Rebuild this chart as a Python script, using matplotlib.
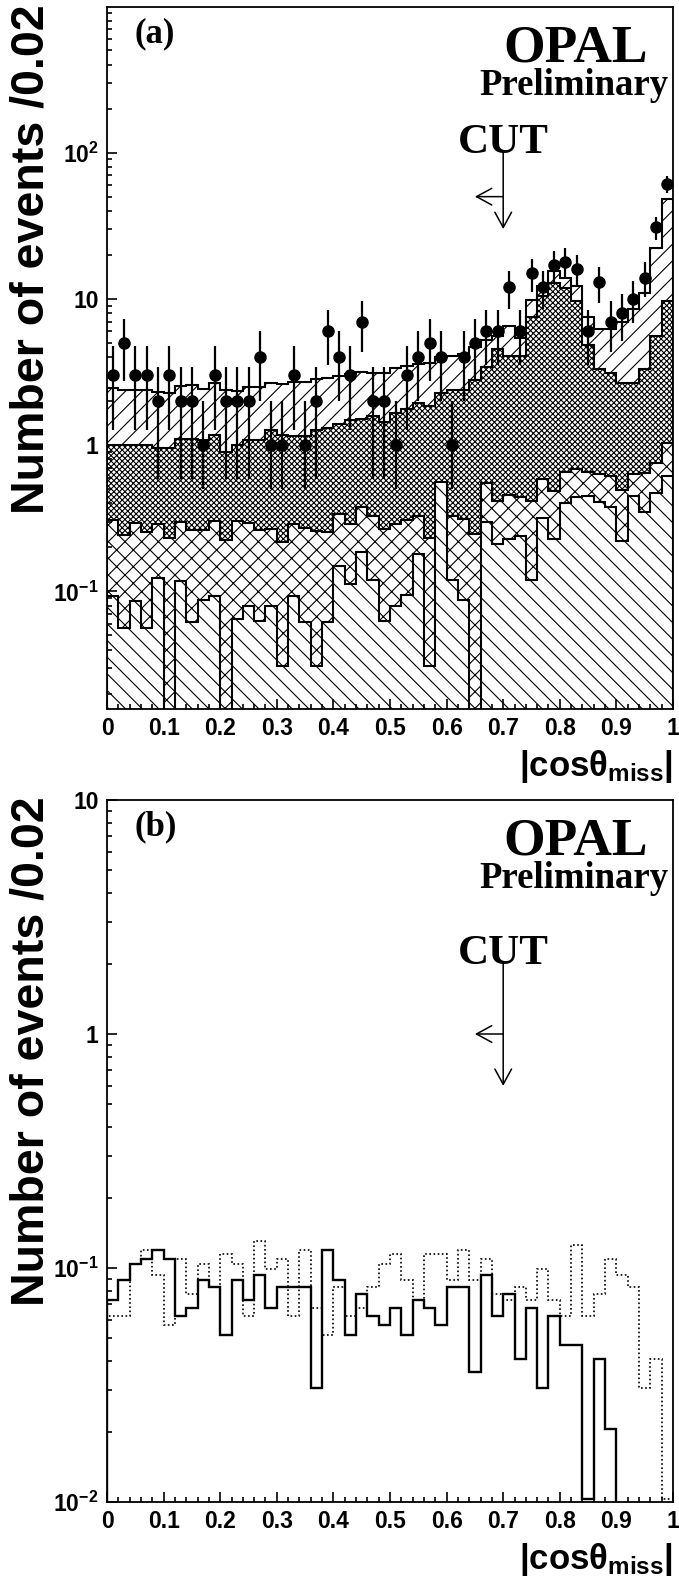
import numpy as np
import matplotlib
matplotlib.use("Agg")
import matplotlib.pyplot as plt
from matplotlib.ticker import MultipleLocator, FixedLocator, FixedFormatter, LogLocator, NullFormatter, FuncFormatter

plt.rcParams['font.family'] = 'Liberation Sans'
plt.rcParams['font.weight'] = 'bold'
plt.rcParams['mathtext.fontset'] = 'custom'
plt.rcParams['mathtext.rm'] = 'Liberation Sans:bold'
plt.rcParams['mathtext.it'] = 'Liberation Sans:bold'
plt.rcParams['mathtext.bf'] = 'Liberation Sans:bold'
plt.rcParams['hatch.linewidth'] = 0.8

# 50 bins of |cos theta_miss|, width 0.02
edges = np.linspace(0, 1, 51)
centres = 0.5 * (edges[:-1] + edges[1:])

# panel (a): MC histograms (drawn back to front) and data
mc_total = [2.45, 2.40, 2.38, 2.40, 2.31, 2.28, 2.53, 2.58, 2.42, 2.64,
            2.40, 2.33, 2.48, 2.50, 2.68, 2.60, 2.70, 2.70, 2.82, 2.88,
            2.95, 3.05, 3.15, 3.13, 3.10, 3.36, 3.45, 3.57, 3.65, 3.98,
            4.10, 4.23, 4.71, 5.27, 5.58, 6.54, 5.37, 9.84, 12.2, 15.5,
            14.0, 12.2, 7.5, 6.2, 6.2, 6.9, 8.5, 11.0, 22.2, 48.5]
mc_dense = [1.01, 1.01, 1.01, 1.00, 0.96, 0.95, 1.11, 1.10, 1.08, 1.18,
            0.90, 1.00, 1.09, 1.09, 1.26, 1.18, 1.16, 1.16, 1.27, 1.30,
            1.40, 1.48, 1.50, 1.59, 1.45, 1.66, 1.76, 1.94, 1.86, 2.26,
            2.39, 2.39, 2.80, 3.41, 4.53, 4.05, 4.10, 7.5, 10.5, 12.9,
            11.9, 9.7, 4.8, 3.32, 3.13, 2.68, 2.68, 3.32, 5.58, 9.7]
mc_cross = [0.31, 0.242, 0.292, 0.255, 0.287, 0.232, 0.30, 0.262, 0.262, 0.305,
            0.224, 0.305, 0.292, 0.264, 0.268, 0.218, 0.288, 0.27, 0.257, 0.253,
            0.34, 0.288, 0.375, 0.33, 0.268, 0.288, 0.31, 0.33, 0.232, 0.33,
            0.326, 0.312, 0.245, 0.547, 0.415, 0.455, 0.443, 0.415, 0.59, 0.483,
            0.66, 0.69, 0.65, 0.63, 0.62, 0.49, 0.63, 0.64, 0.75, 1.03]
mc_back = [0.093, 0.056, 0.086, 0.056, 0.123, 0.0, 0.117, 0.062, 0.087, 0.093,
           0.0, 0.065, 0.080, 0.063, 0.080, 0.031, 0.093, 0.062, 0.031, 0.062,
           0.149, 0.112, 0.186, 0.119, 0.063, 0.08, 0.095, 0.18, 0.031, 0.56,
           0.119, 0.087, 0.0, 0.30, 0.21, 0.228, 0.241, 0.119, 0.32, 0.228,
           0.40, 0.44, 0.45, 0.41, 0.38, 0.22, 0.45, 0.35, 0.47, 0.62]
data_a = [3, 5, 3, 3, 2, 3, 2, 2, 1, 3,
          2, 2, 2, 4, 1, 1, 3, 1, 2, 6,
          4, 3, 7, 2, 2, 1, 3, 4, 5, 4,
          1, 4, 5, 6, 6, 12, 6, 15, 12, 17,
          18, 16, 6, 13, 7, 8, 10, 14, 31, 61]

# panel (b): two expected distributions
hist_solid = [0.0729, 0.0885, 0.1037, 0.109, 0.1195, 0.109, 0.0622, 0.0675, 0.0885, 0.0829,
              0.0517, 0.0885, 0.0729, 0.0933, 0.0675, 0.0829, 0.0829, 0.0829, 0.0308, 0.1195,
              0.0885, 0.0517, 0.0778, 0.0622, 0.0569, 0.0675, 0.0517, 0.0729, 0.0675, 0.0569,
              0.0829, 0.0829, 0.0361, 0.0933, 0.0622, 0.0778, 0.0410, 0.0675, 0.0308, 0.0622,
              0.0467, 0.0467, 0.0103, 0.0410, 0.0206, 0.0, 0.0, 0.0, 0.0, 0.0]
hist_dotted = [0.0622, 0.0622, 0.1037, 0.1195, 0.0933, 0.0569, 0.109, 0.0778, 0.1037, 0.0829,
               0.1145, 0.1037, 0.0622, 0.131, 0.0995, 0.109, 0.0622, 0.1195, 0.0675, 0.0517,
               0.0829, 0.0622, 0.0675, 0.0829, 0.1037, 0.1145, 0.0885, 0.0729, 0.1145, 0.1145,
               0.0885, 0.1195, 0.0885, 0.109, 0.0778, 0.0729, 0.0829, 0.0729, 0.0995, 0.0729,
               0.0622, 0.125, 0.0622, 0.0778, 0.109, 0.0933, 0.0829, 0.0308, 0.0410, 0.0103]

cut = 0.7

fig = plt.figure(figsize=(6.79, 15.84), dpi=100)
ax_a = fig.add_axes([107/679, 1 - 709/1584, 566/679, 702/1584])
ax_b = fig.add_axes([107/679, 1 - 1502/1584, 566/679, 702/1584])

head = '->,head_length=1.1,head_width=0.6'


def style_axes(ax, ylim, yticks, ylabels):
    ax.set_xlim(0, 1)
    ax.set_yscale('log')
    ax.set_ylim(*ylim)
    ax.xaxis.set_major_locator(MultipleLocator(0.1))
    ax.xaxis.set_minor_locator(MultipleLocator(0.02))
    ax.xaxis.set_major_formatter(FuncFormatter(lambda v, p: f"{v:g}"))
    ax.yaxis.set_major_locator(FixedLocator(yticks))
    ax.yaxis.set_major_formatter(FixedFormatter(ylabels))
    ax.yaxis.set_minor_locator(LogLocator(base=10, subs=np.arange(2, 10), numticks=20))
    ax.yaxis.set_minor_formatter(NullFormatter())
    ax.tick_params(which='both', direction='in', top=False, right=False,
                   labelsize=16.5, width=1.2)
    ax.tick_params(which='major', length=7.5, pad=6)
    ax.tick_params(which='minor', length=3.8)
    for s in ax.spines.values():
        s.set_linewidth(1.3)
    ax.text(1.0, -0.056, r'$|cos\theta_{miss}|$', transform=ax.transAxes,
            ha='right', va='top', fontsize=25)


def labels(ax, tag, fig_y, cut_y):
    ax.text(0.049, 0.985, tag, transform=ax.transAxes, family='Liberation Serif',
            weight='bold', fontsize=25, ha='left', va='top')
    ax.text(0.955, 0.922, 'OPAL', transform=ax.transAxes, family='Liberation Serif',
            weight='bold', fontsize=38.5, ha='right', va='baseline')
    ax.text(0.992, 0.874, 'Preliminary', transform=ax.transAxes, family='Liberation Serif',
            weight='bold', fontsize=26.5, ha='right', va='baseline')
    ax.text(cut, cut_y, 'CUT', family='Liberation Serif',
            weight='bold', fontsize=31, ha='center', va='baseline')
    fig.text(0.046, fig_y, 'Number of events /0.02', rotation=90,
             ha='center', va='top', fontsize=33.5)


# ---- panel (a)
ax = ax_a
for vals, hatch in [(mc_total, '//'), (mc_dense, 'xxxxxx'), (mc_cross, 'xx'), (mc_back, '\\\\')]:
    ax.stairs(vals, edges, baseline=1e-3, fill=True, facecolor='white',
              edgecolor='black', hatch=hatch, linewidth=0)
    ax.stairs(vals, edges, baseline=1e-3, fill=False, color='black', linewidth=1.5)

counts = np.array(data_a, dtype=float)
err = np.sqrt(counts)
err_lo = np.where(counts - err > 0, err, 0.5 * counts)
ax.errorbar(centres, counts, yerr=[err_lo, err], fmt='o', color='black',
            ms=8, elinewidth=1.6, capsize=0)

style_axes(ax, (0.0157, 990), [0.1, 1, 10, 100], [r'$10^{-1}$', '1', '10', r'$10^{2}$'])
labels(ax, '(a)', 0.9975, 100)
ax.annotate('', xy=(cut, 30), xytext=(cut, 100),
            arrowprops=dict(arrowstyle=head, lw=1.1, color='black', shrinkA=0, shrinkB=0))
ax.annotate('', xy=(0.65, 50), xytext=(cut, 50),
            arrowprops=dict(arrowstyle=head, lw=1.1, color='black', shrinkA=0, shrinkB=0))

# ---- panel (b)
ax = ax_b
ax.stairs(hist_dotted, edges, baseline=1e-4, color='black', linewidth=1.2, linestyle=(0, (1, 1.5)))
ax.stairs(hist_solid, edges, baseline=1e-4, color='black', linewidth=1.7)
style_axes(ax, (0.01, 10), [0.01, 0.1, 1, 10], [r'$10^{-2}$', r'$10^{-1}$', '1', '10'])
labels(ax, '(b)', 0.497, 2.0)
ax.annotate('', xy=(cut, 0.6), xytext=(cut, 2.0),
            arrowprops=dict(arrowstyle=head, lw=1.1, color='black', shrinkA=0, shrinkB=0))
ax.annotate('', xy=(0.65, 1.0), xytext=(cut, 1.0),
            arrowprops=dict(arrowstyle=head, lw=1.1, color='black', shrinkA=0, shrinkB=0))

for a in (ax_a, ax_b):
    fig.canvas.draw()
    a.get_xticklabels()[-1].set_horizontalalignment('right')

fig.savefig('out.png', dpi=100)
